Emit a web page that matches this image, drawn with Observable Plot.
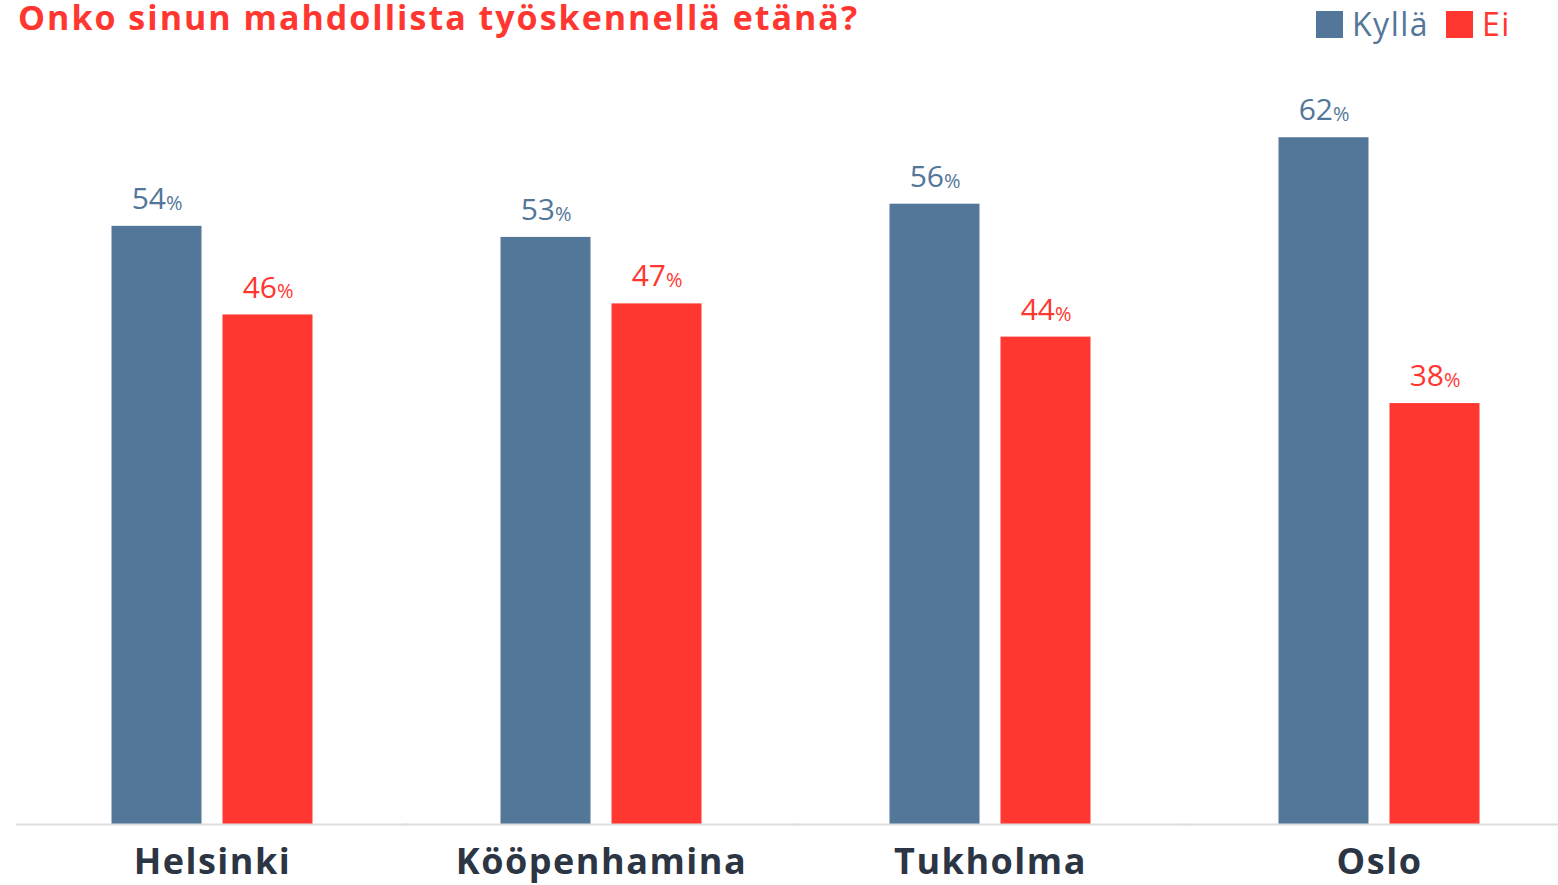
<!DOCTYPE html>
<html>
<head>
<meta charset="utf-8">
<script src="https://cdn.jsdelivr.net/npm/d3@7"></script>
<script src="https://cdn.jsdelivr.net/npm/@observablehq/plot@0.6"></script>
<style>
  html, body { margin: 0; padding: 0; background: #fff; }
  #wrap { position: relative; width: 1558px; height: 885px; overflow: hidden; }
  #header { position: relative; height: 48px; }
  #title { position: absolute; left: 18px; top: 0px; font-family: "Open Sans", sans-serif; font-weight: 700; font-size: 34px; line-height: 34px; letter-spacing: 2px; color: #ff3730; white-space: nowrap; }
  #legend { position: absolute; left: 1316px; top: 6px; display: flex; align-items: center; font-family: "Open Sans", sans-serif; font-size: 32px; line-height: 36px; letter-spacing: 1.5px; }
  .sw { width: 27px; height: 27px; display: inline-block; margin-right: 9px; }
  .item { display: flex; align-items: center; margin-right: 17px; }
</style>
</head>
<body>
<div id="wrap">
  <div id="header">
    <div id="title">Onko sinun mahdollista työskennellä etänä?</div>
    <div id="legend"></div>
  </div>
  <div id="chart"></div>
</div>
<script>
const cities = ["Helsinki", "Kööpenhamina", "Tukholma", "Oslo"];
const series = ["Kyllä", "Ei"];
const kylla = [54, 53, 56, 62];
const ei = [46, 47, 44, 38];
const colors = ["#537799", "#ff3730"];

const data = [];
cities.forEach((c, i) => {
  data.push({city: c, series: "Kyllä", value: kylla[i]});
  data.push({city: c, series: "Ei", value: ei[i]});
});

// legend
const legend = document.getElementById("legend");
series.forEach((s, i) => {
  const it = document.createElement("div");
  it.className = "item";
  const sw = document.createElement("span");
  sw.className = "sw";
  sw.style.background = colors[i];
  const t = document.createElement("span");
  t.textContent = s;
  t.style.color = colors[i];
  it.appendChild(sw); it.appendChild(t);
  legend.appendChild(it);
});

const chart = Plot.plot({
  width: 1558,
  height: 837,
  marginLeft: 61.5,
  marginRight: 29.5,
  marginTop: 56,
  marginBottom: 61,
  style: {fontFamily: "Open Sans, sans-serif", background: "#fff"},
  fx: {domain: cities, paddingInner: 0.2288, paddingOuter: 0, label: null, axis: "bottom", tickSize: 0, tickPadding: 24},
  x: {domain: series, paddingInner: 0.19, paddingOuter: 0.446, axis: null},
  y: {domain: [0, 65], axis: null},
  color: {domain: series, range: colors},
  marks: [
    Plot.barY(data, {fx: "city", x: "series", y: "value", fill: "series"}),
    Plot.ruleY([0], {stroke: "#dddddd", strokeWidth: 2, insetLeft: -46, insetRight: -46}),
    Plot.text(data, {fx: "city", x: "series", y: "value", text: d => String(d.value), textAnchor: "end", dx: 9, dy: -27, fill: "series", fontSize: 30}),
    Plot.text(data, {fx: "city", x: "series", y: "value", text: () => "%", textAnchor: "start", dx: 9, dy: -23, fill: "series", fontSize: 20})
  ]
});
chart.querySelectorAll("g[aria-label^='fx-axis'] text").forEach(t => {
  t.setAttribute("font-weight", "700");
  t.setAttribute("fill", "#2c3544");
  t.setAttribute("font-size", "36");
  t.setAttribute("letter-spacing", "1.5");
});
document.getElementById("chart").appendChild(chart);
</script>
</body>
</html>
